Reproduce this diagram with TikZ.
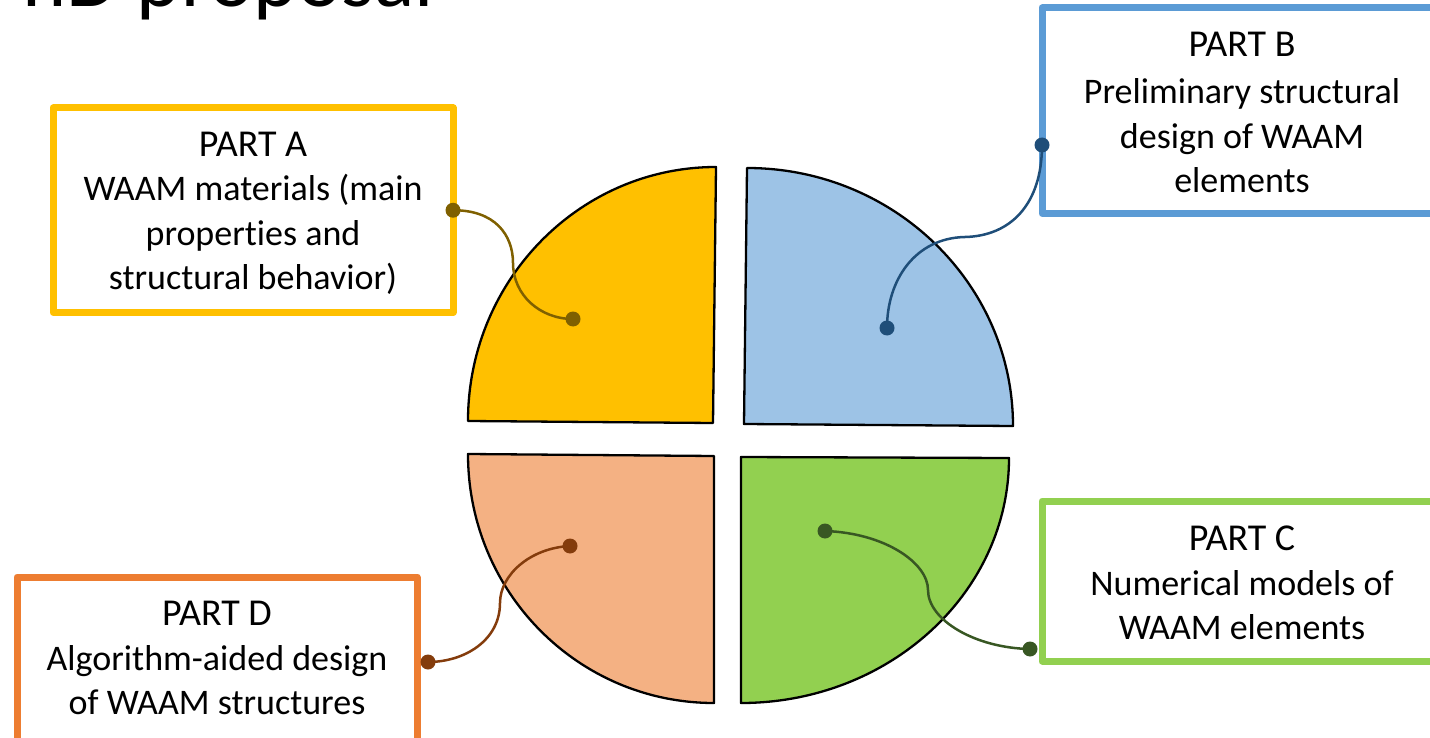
\documentclass[tikz,border=0pt]{standalone}
\usepackage{fontspec}
\setmainfont{Carlito}[Ligatures={NoCommon}]
\definecolor{cYel}{HTML}{FFC000}
\definecolor{cBlueF}{HTML}{9DC3E6}
\definecolor{cPeach}{HTML}{F4B183}
\definecolor{cGreen}{HTML}{92D050}
\definecolor{cBlueB}{HTML}{5B9BD5}
\definecolor{cOrange}{HTML}{ED7D31}
\definecolor{kA}{HTML}{7F6000}
\definecolor{kB}{HTML}{1F4E79}
\definecolor{kC}{HTML}{385723}
\definecolor{kD}{HTML}{843C0C}
\begin{document}
\begin{tikzpicture}[x=1pt,y=-1pt,
  partbox/.style={draw=#1, line width=7pt, line join=round, inner sep=0pt, outer sep=0pt, anchor=north west},
  head/.style={font=\fontsize{38}{44.5}\selectfont, inner sep=0pt, anchor=base},
  body/.style={font=\fontsize{36}{44.5}\selectfont, align=center, inner sep=0pt, text depth=0pt, anchor=south},
  quad/.style={fill=#1, draw=black, line width=2.3pt, line join=round},
  conn/.style={draw=#1, line width=2.5pt},
  dotn/.style={circle, fill=#1, inner sep=0pt, minimum size=15pt}
]
\useasboundingbox (0,0) rectangle (1430,738);
\clip (0,0) rectangle (1430,738);

% title (cut off at top)
\node[font=\fontsize{84}{96}\selectfont, inner sep=0pt, anchor=base west] (title) at (22,7) {hD proposal};

% quadrants
\path[quad=cYel] (468,421) .. controls (468,281) and (579,167) .. (716,167) -- (713,423) -- cycle;
\path[quad=cBlueF] (747,168) .. controls (894,168) and (1013,284) .. (1013,426) -- (744,424) -- cycle;
\path[quad=cPeach] (468,454) -- (714,456) -- (714,703) .. controls (578,703) and (468,592) .. (468,454) -- cycle;
\path[quad=cGreen] (741,457) -- (1009,458) .. controls (1009,593) and (889,703) .. (741,703) -- cycle;

% boxes
\node[partbox=cYel, minimum width=400pt, minimum height=204.5pt] (boxA) at (53,108) {};
\node[partbox=cBlueB, minimum width=400pt, minimum height=205.5pt] (boxB) at (1042,8) {};
\node[partbox=cGreen, minimum width=400pt, minimum height=160pt] (boxC) at (1042,501) {};
\node[partbox=cOrange, minimum width=400pt, minimum height=170pt] (boxD) at (17,577) {};

% texts
\node[head] (hA) at (253,157) {PART A};
\node[body] (tA) at (253,290) {WAAM materials (main\\properties and\\structural behavior)};
\node[head] (hB) at (1242,57) {PART B};
\node[body] (tB) at (1242,193) {Preliminary structural\\design of WAAM\\elements};
\node[head] (hC) at (1242,550) {PART C};
\node[body] (tC) at (1242,640) {Numerical models of\\WAAM elements};
\node[head] (hD) at (217,625) {PART D};
\node[body] (tD) at (217,715) {Algorithm-aided design\\of WAAM structures};

% connector dots
\node[dotn=kA] (a1) at (boxA.east) {};
\node[dotn=kA] (a2) at (573,319) {};
\node[dotn=kB] (b1) at (1042,145) {};
\node[dotn=kB] (b2) at (887,328) {};
\node[dotn=kC] (c1) at (825,531) {};
\node[dotn=kC] (c2) at (1030,649) {};
\node[dotn=kD] (d1) at (570,546) {};
\node[dotn=kD] (d2) at (428,662) {};

% connectors
\path[conn=kA] (a1.center) .. controls (495,210) and (513,235) .. (513,263) .. controls (513,295) and (540,319) .. (a2.center);
\path[conn=kB] (b1.center) .. controls (1042,205) and (1010,236) .. (965,237) .. controls (915,238) and (887,280) .. (b2.center);
\path[conn=kC] (c1.center) .. controls (885,533) and (928,563) .. (928,590) .. controls (928,620) and (975,648) .. (c2.center);
\path[conn=kD] (d1.center) .. controls (530,548) and (500,575) .. (500,603) .. controls (500,640) and (465,662) .. (d2.center);
\end{tikzpicture}
\end{document}
